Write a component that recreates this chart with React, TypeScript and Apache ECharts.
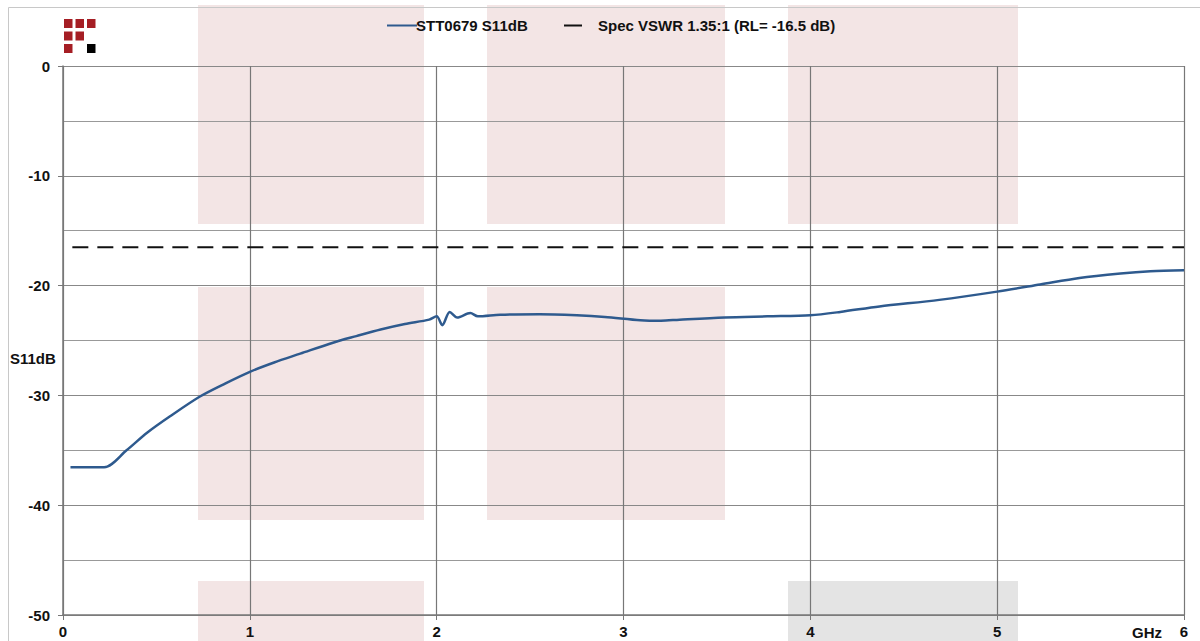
import React, { useEffect, useRef } from "react";
import * as echarts from "echarts";

const freqGHz = [0.04, 0.22, 0.34, 0.45, 0.573, 0.733, 0.87, 1.0, 1.13, 1.27, 1.445, 1.57, 1.7, 1.83, 1.96, 2.0, 2.03, 2.07, 2.11, 2.18, 2.22, 2.34, 2.55, 2.75, 2.9, 3.09, 3.2, 3.3, 3.54, 3.77, 4.0, 4.16, 4.37, 4.69, 5.0, 5.23, 5.44, 5.66, 5.82, 6.0];
const s11dB = [-36.55, -36.55, -35.0, -33.4, -31.9, -30.1, -28.9, -27.85, -27.0, -26.2, -25.2, -24.6, -24.0, -23.5, -23.1, -22.8, -23.6, -22.4, -22.9, -22.5, -22.8, -22.65, -22.6, -22.7, -22.85, -23.15, -23.2, -23.1, -22.9, -22.8, -22.7, -22.4, -21.9, -21.3, -20.55, -19.9, -19.3, -18.9, -18.7, -18.6];
const specFreq = [0.05, 6.0];
const specRL = [-16.5, -16.5];
const seriesNames = ["STT0679 S11dB", "Spec VSWR 1.35:1 (RL= -16.5 dB)"];
const yTicks = [0, -10, -20, -30, -40, -50];

const FONT = "'Liberation Sans', Arial, sans-serif";

export default function App() {
  const ref = useRef<HTMLDivElement>(null);
  useEffect(() => {
    if (!ref.current) return;
    const chart = echarts.init(ref.current, null, { renderer: "svg" });

    const pink = "#f3e5e5";
    const grey = "#e4e4e4";
    const cols = [[198, 424], [487, 725], [788, 1018]];
    const rows = [[5, 224], [287, 520], [581, 660]];
    const cells: [number, number, string][] = [
      [0, 0, pink], [1, 0, pink], [2, 0, pink],
      [0, 1, pink], [1, 1, pink],
      [0, 2, pink], [2, 2, grey],
    ];
    const wm = cells.map(([c, r, col]) => ({
      type: "rect",
      z: -10,
      silent: true,
      shape: { x: cols[c][0], y: rows[r][0], width: cols[c][1] - cols[c][0], height: rows[r][1] - rows[r][0] },
      style: { fill: col },
    }));
    const logoCells: [number, number, string][] = [
      [0, 0, "#a51e24"], [1, 0, "#a51e24"], [2, 0, "#a51e24"],
      [0, 1, "#a51e24"], [1, 1, "#a51e24"],
      [0, 2, "#a51e24"], [2, 2, "#000"],
    ];
    const logo = logoCells.map(([c, r, col]) => ({
      type: "rect",
      z: 10,
      silent: true,
      shape: { x: 64 + c * 11.5, y: 19 + r * 12.5, width: 8.5, height: 9 },
      style: { fill: col },
    }));

    chart.setOption({
      animation: false,
      backgroundColor: "#fff",
      grid: { left: 63, right: 16, top: 66, bottom: 26, containLabel: false },
      legend: [
        {
          data: [seriesNames[0]],
          left: 382,
          top: 13,
          icon: "rect",
          itemWidth: 30,
          itemHeight: 2,
          textStyle: { fontFamily: FONT, fontWeight: "bold", fontSize: 15, color: "#111", padding: [0, 0, 0, -6] },
        },
        {
          data: [seriesNames[1]],
          left: 559,
          top: 13,
          icon: "rect",
          itemWidth: 18,
          itemHeight: 2,
          textStyle: { fontFamily: FONT, fontWeight: "bold", fontSize: 15, color: "#111", padding: [0, 0, 0, 11] },
        },
      ],
      xAxis: {
        type: "value",
        min: 0,
        max: 6,
        interval: 1,
        axisLine: { show: true, onZero: false, lineStyle: { color: "#777", width: 1.5 } },
        axisTick: { show: true, length: 5, lineStyle: { color: "#777" } },
        axisLabel: { fontFamily: FONT, fontWeight: "bold", fontSize: 15, color: "#111", margin: 9 },
        splitLine: { show: true, lineStyle: { color: "#777", width: 1.2 } },
      },
      yAxis: {
        type: "value",
        min: -50,
        max: 0,
        interval: 10,
        axisLine: { show: true, lineStyle: { color: "#777", width: 1.5 } },
        axisTick: { show: true, length: 5, lineStyle: { color: "#777" } },
        axisLabel: {
          fontFamily: FONT, fontWeight: "bold", fontSize: 15, color: "#111", margin: 13,
          formatter: (v: number) => (yTicks.indexOf(v) >= 0 ? String(v) : ""),
        },
        splitLine: { show: true, lineStyle: { color: "#888", width: 1.2 } },
        minorTick: { show: false, splitNumber: 2 },
        minorSplitLine: { show: true, lineStyle: { color: "#999", width: 1.2 } },
      },
      graphic: [
        ...wm,
        ...logo,
        {
          type: "rect",
          z: 20,
          silent: true,
          shape: { x: 8.5, y: 7.5, width: 1200, height: 700 },
          style: { fill: "none", stroke: "#c8c8c8", lineWidth: 1 },
        },
        {
          type: "text",
          z: 20,
          left: 10,
          top: 351,
          style: { text: "S11dB", font: `bold 15px ${FONT}`, fill: "#111" },
        },
        {
          type: "text",
          z: 20,
          left: 1132,
          top: 625,
          style: { text: "GHz", font: `bold 15px ${FONT}`, fill: "#111" },
        },
      ],
      series: [
        {
          name: seriesNames[0],
          type: "line",
          color: "#2e5a8e",
          showSymbol: false,
          smooth: 0.3,
          z: 5,
          lineStyle: { color: "#2e5a8e", width: 2.5 },
          data: freqGHz.map((f, i) => [f, s11dB[i]]),
        },
        {
          name: seriesNames[1],
          type: "line",
          color: "#111",
          showSymbol: false,
          z: 4,
          lineStyle: { color: "#111", width: 2, type: [16, 9] },
          data: specFreq.map((f, i) => [f, specRL[i]]),
        },
      ],
    });
    return () => chart.dispose();
  }, []);
  return <div ref={ref} style={{ position: "fixed", left: 0, top: 0, width: 1200, height: 641 }} />;
}
